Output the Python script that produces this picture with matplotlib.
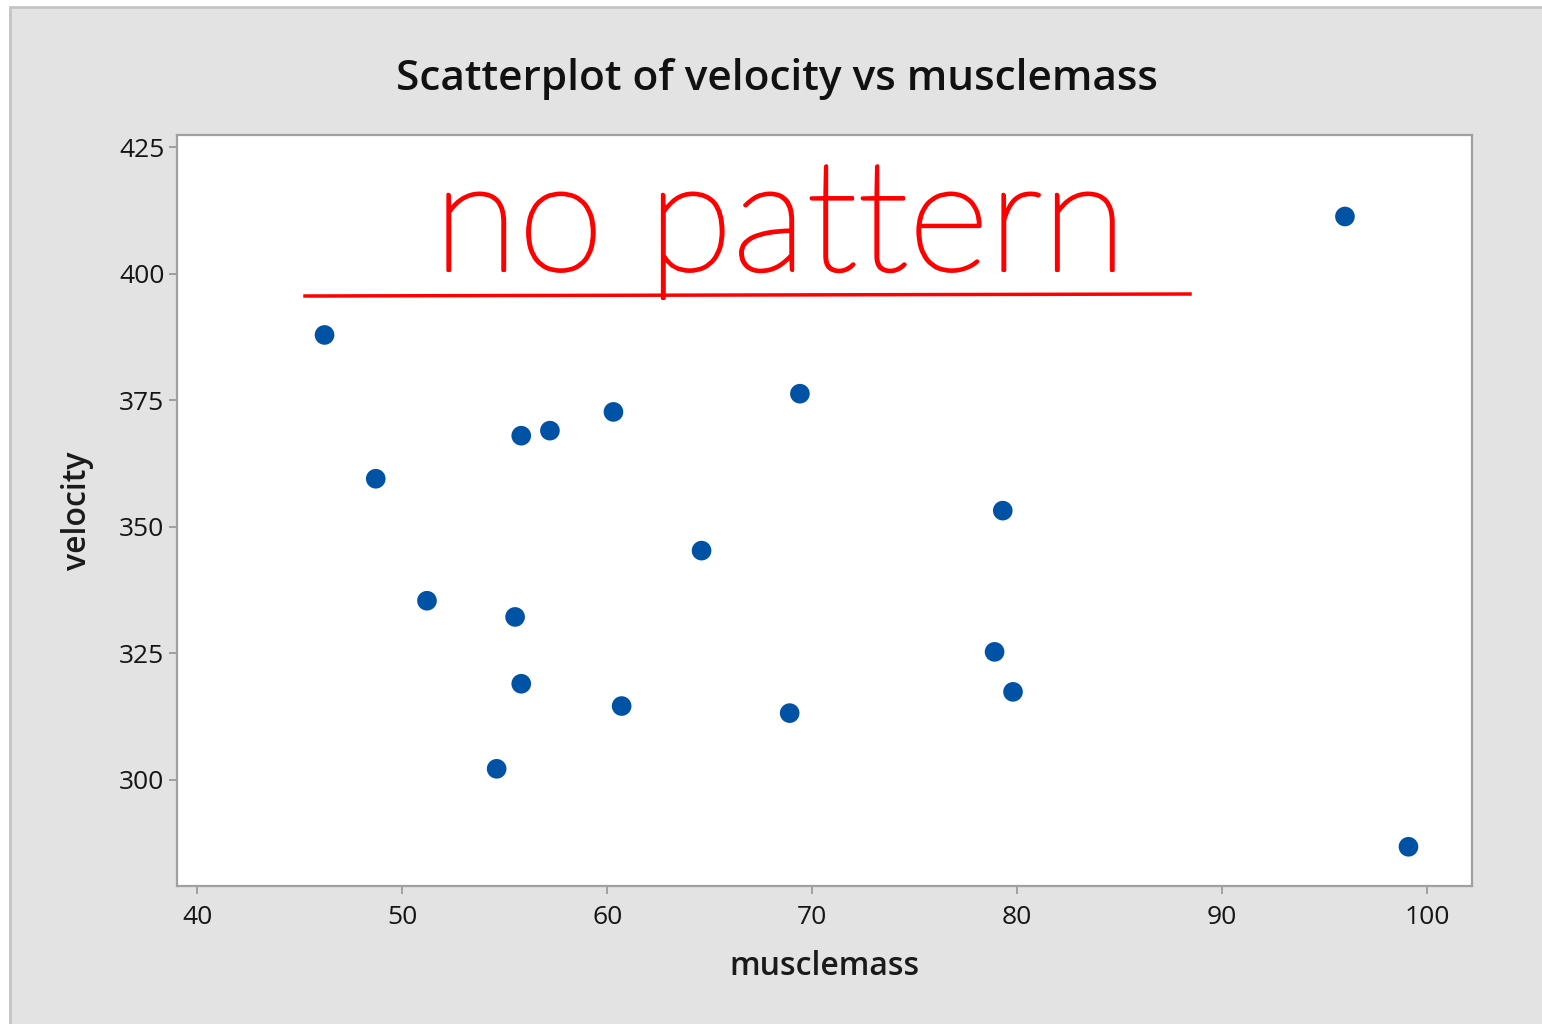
import matplotlib
matplotlib.use("Agg")
import matplotlib.pyplot as plt
from matplotlib.patches import Rectangle
from matplotlib.lines import Line2D
import matplotlib.patheffects as pe

# Data
musclemass = [46.2, 48.7, 51.2, 54.6, 55.5, 55.8, 55.8, 57.2, 60.3, 60.7,
              64.6, 68.9, 69.4, 78.9, 79.3, 79.8, 96.0, 99.1]
velocity = [387.9, 359.5, 335.4, 302.2, 332.2, 368.0, 319.0, 369.0, 372.7, 314.6,
            345.3, 313.2, 376.3, 325.3, 353.2, 317.4, 411.3, 286.8]
xticks = [40, 50, 60, 70, 80, 90, 100]
yticks = [300, 325, 350, 375, 400, 425]

W, H = 1542, 1024
fig = plt.figure(figsize=(W / 100, H / 100), dpi=100, facecolor="white")

# gray panel background with border
fig.patches.append(Rectangle((10 / W, -0.01), 1.0, (H - 7) / H + 0.01,
                             transform=fig.transFigure, facecolor="#e3e3e3",
                             edgecolor="#c4c4c4", linewidth=2.0, zorder=-10))

ax = fig.add_axes([177 / W, 1 - 886 / H, (1472 - 177) / W, (886 - 135) / H])
ax.set_facecolor("white")
ax.scatter(musclemass, velocity, s=200, color="#0053a4", edgecolors="none", zorder=3)

ax.set_xlim(39.0, 102.2)
ax.set_ylim(279.05, 427.4)
ax.set_xticks(xticks)
ax.set_yticks(yticks)

font = "Open Sans"
for sp in ax.spines.values():
    sp.set_color("#a0a0a0")
    sp.set_linewidth(1.6)
ax.tick_params(axis="both", length=6, width=1.4, color="#a0a0a0",
               labelsize=19, labelcolor="#151515")
ax.tick_params(axis="y", pad=3)
ax.tick_params(axis="x", pad=8)
for lab in ax.get_xticklabels() + ax.get_yticklabels():
    lab.set_family(font)
    lab.set_fontweight("medium")

ax.set_xlabel("musclemass", fontsize=23, fontweight="semibold", family=font,
              color="#1a1a1a", labelpad=14)
ax.set_ylabel("velocity", fontsize=23, fontweight="semibold", family=font,
              color="#1a1a1a", labelpad=18)

fig.text(777 / W, 1 - 79 / H, "Scatterplot of velocity vs musclemass",
         ha="center", va="center", fontsize=30.5, fontweight="semibold",
         family=font, color="#111111")

# red handwritten annotation
fig.text(780 / W, 1 - 228 / H, "no pattern", ha="center", va="center",
         fontsize=112, fontweight="light", family="Lato", color="#ff0000",
         path_effects=[pe.withStroke(linewidth=2.2, foreground="#ff0000")])
fig.add_artist(Line2D([305 / W, 1190 / W], [1 - 296 / H, 1 - 294 / H],
                      transform=fig.transFigure, color="#ff0000", linewidth=2.5))

fig.savefig("out.png", dpi=100, facecolor=fig.get_facecolor())
